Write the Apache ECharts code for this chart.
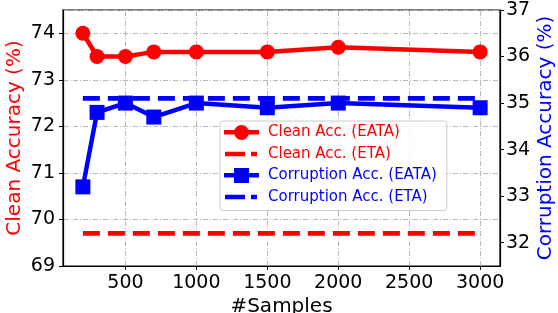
<!DOCTYPE html>
<html>
<head>
<meta charset="utf-8">
<script src="https://cdn.jsdelivr.net/npm/echarts@6/dist/echarts.min.js"></script>
<style>
  html, body { margin: 0; padding: 0; background: #fff; }
  #chart { width: 558px; height: 313px; }
</style>
</head>
<body>
<div id="chart"></div>
<script>
// data
var samples = [200, 300, 500, 700, 1000, 1500, 2000, 3000];
var cleanEata = [74.0, 73.5, 73.5, 73.6, 73.6, 73.6, 73.7, 73.6];
var corrEata = [33.2, 34.8, 35.0, 34.7, 35.0, 34.9, 35.0, 34.9];
var cleanEta = [69.7, 69.7];
var corrEta = [35.1, 35.1];
var etaRange = [200, 3000];
var xTicks = [500, 1000, 1500, 2000, 2500, 3000];
var rightTicks = [32, 33, 34, 35, 36, 37];

function pairs(xs, ys) {
    return xs.map(function (x, i) { return [x, ys[i]]; });
}

var font = 'DejaVu Sans';
var gridLineStyle = { color: '#b8b8b8', width: 1, type: [5, 2, 1, 2] };

// legend icons (marker on a thick line, or a dash pattern)
var iconCircle = 'path://M0,5 H11 V9.5 H0 Z M24,5 H35 V9.5 H24 Z M17.5,0 A7.5,7.5 0 1 1 17.5,15 A7.5,7.5 0 1 1 17.5,0 Z M39,7 L39,7.01 Z';
var iconSquare = 'path://M0,5 H11 V9.5 H0 Z M24,5 H35 V9.5 H24 Z M10,0 H25 V15 H10 Z M39,7 L39,7.01 Z';
var iconDash = 'path://M0,0 L0,0.01 Z M1,5.2 H21 V9.8 H1 Z M27,5.2 H33 V9.8 H27 Z M39,15 L39,15.01 Z';

function legendText(color) {
    return { fontFamily: font, fontSize: 15, color: color };
}

var myChart = echarts.init(document.getElementById('chart'));

var option = {
    animation: false,
    textStyle: { fontFamily: font },
    grid: {
        left: 63, right: 58, top: 10, bottom: 47,
        show: true, borderColor: '#000', borderWidth: 1.2,
        containLabel: false, outerBoundsMode: 'none'
    },
    legend: {
        orient: 'vertical',
        left: 220, top: 121,
        padding: [4, 10, 6, 4],
        itemWidth: 39, itemHeight: 15, itemGap: 6.5,
        backgroundColor: 'rgba(255,255,255,0.85)',
        borderColor: '#cccccc', borderWidth: 1, borderRadius: 3,
        textStyle: legendText('#000'),
        data: [
            { name: 'Clean Acc. (EATA)', icon: iconCircle, textStyle: legendText('#ff0000') },
            { name: 'Clean Acc. (ETA)', icon: iconDash, textStyle: legendText('#ff0000') },
            { name: 'Corruption Acc. (EATA)', icon: iconSquare, textStyle: legendText('#0000ff') },
            { name: 'Corruption Acc. (ETA)', icon: iconDash, textStyle: legendText('#0000ff') }
        ]
    },
    xAxis: {
        type: 'value', min: 60, max: 3140,
        name: '#Samples', nameLocation: 'middle', nameGap: 31, nameMoveOverlap: false,
        nameTextStyle: { fontSize: 20, color: '#000', fontFamily: font },
        axisLine: { show: true, lineStyle: { color: '#000', width: 1.2 } },
        axisTick: { show: true, length: 4, customValues: xTicks, lineStyle: { color: '#000' } },
        axisLabel: {
            customValues: xTicks, fontSize: 19, color: '#000', margin: 8, fontFamily: font,
            formatter: function (v) { return String(v); }
        },
        splitLine: { show: false }
    },
    yAxis: [{
        type: 'value', min: 69, max: 74.5, interval: 1, position: 'left',
        name: 'Clean Accuracy (%)', nameLocation: 'middle', nameGap: 38, nameMoveOverlap: false,
        nameTextStyle: { fontSize: 20, color: '#ff0000', fontFamily: font },
        axisLine: { show: true, lineStyle: { color: '#000', width: 1.2 } },
        axisTick: { show: true, length: 4, lineStyle: { color: '#000' } },
        axisLabel: { fontSize: 19, color: '#000', margin: 8, showMaxLabel: false, fontFamily: font },
        splitLine: { show: true, lineStyle: gridLineStyle }
    }, {
        type: 'value', min: 31.5, max: 37, position: 'right',
        name: 'Corruption Accuracy (%)', nameLocation: 'middle', nameGap: 36, nameMoveOverlap: false,
        nameTextStyle: { fontSize: 20, color: '#0000ff', fontFamily: font },
        axisLine: { show: true, lineStyle: { color: '#000', width: 1.2 } },
        axisTick: { show: true, length: 4, customValues: rightTicks, lineStyle: { color: '#000' } },
        axisLabel: { customValues: rightTicks, fontSize: 19, color: '#000', margin: 6, fontFamily: font },
        splitLine: { show: false }
    }],
    series: [{
        name: 'Clean Acc. (EATA)', type: 'line', yAxisIndex: 0, z: 4,
        data: pairs(samples, cleanEata),
        symbol: 'circle', symbolSize: 15,
        lineStyle: { color: '#ff0000', width: 4.5 },
        itemStyle: { color: '#ff0000' },
        // vertical grid lines at the x ticks
        markLine: {
            silent: true, symbol: 'none', label: { show: false }, z: 1,
            lineStyle: gridLineStyle,
            data: xTicks.map(function (v) { return { xAxis: v }; })
        }
    }, {
        name: 'Clean Acc. (ETA)', type: 'line', yAxisIndex: 0, z: 3,
        data: pairs(etaRange, cleanEta),
        symbol: 'none',
        lineStyle: { color: '#ff0000', width: 4.7, type: [17, 8] },
        itemStyle: { color: '#ff0000' }
    }, {
        name: 'Corruption Acc. (EATA)', type: 'line', yAxisIndex: 1, z: 3,
        data: pairs(samples, corrEata),
        symbol: 'rect', symbolSize: 15,
        lineStyle: { color: '#0000ff', width: 4.5 },
        itemStyle: { color: '#0000ff' }
    }, {
        name: 'Corruption Acc. (ETA)', type: 'line', yAxisIndex: 1, z: 3,
        data: pairs(etaRange, corrEta),
        symbol: 'none',
        lineStyle: { color: '#0000ff', width: 4.7, type: [17, 8] },
        itemStyle: { color: '#0000ff' }
    }]
};

myChart.setOption(option);
</script>
</body>
</html>
